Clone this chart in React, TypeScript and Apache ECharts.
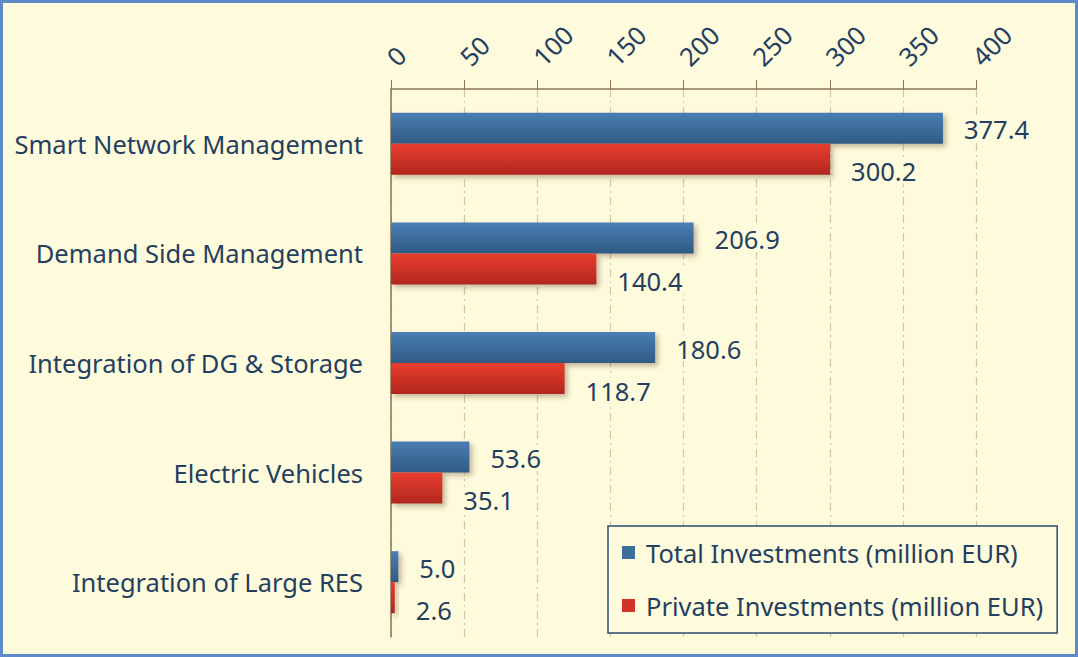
import React, { useEffect, useRef } from "react";
import * as echarts from "echarts";

const categories = [
  "Integration of Large RES",
  "Electric Vehicles",
  "Integration of DG & Storage",
  "Demand Side Management",
  "Smart Network Management",
];
const totalInvestments = [5.0, 53.6, 180.6, 206.9, 377.4];
const privateInvestments = [2.6, 35.1, 118.7, 140.4, 300.2];
const seriesNames = ["Total Investments (million EUR)", "Private Investments (million EUR)"];

const FONT = "'Noto Sans', 'Open Sans', sans-serif";
const FS = 25.5;
const TEXT = "#243F60";
const BG = "#FEFADC";

export default function App() {
  const ref = useRef<HTMLDivElement>(null);
  useEffect(() => {
    document.body.style.margin = "0";
    const chart = echarts.init(ref.current!, null, { renderer: "svg" });
    const blueGrad = new echarts.graphic.LinearGradient(0, 0, 0, 1, [
      { offset: 0, color: "#4A7EB3" },
      { offset: 1, color: "#2F5A84" },
    ]);
    const redGrad = new echarts.graphic.LinearGradient(0, 0, 0, 1, [
      { offset: 0, color: "#E83D2E" },
      { offset: 1, color: "#B2271F" },
    ]);
    const labelBase = {
      show: true,
      position: "right" as const,
      fontFamily: FONT,
      fontSize: FS,
      color: TEXT,
      backgroundColor: BG,
      padding: [0, 4],
      formatter: (p: any) => Number(p.value).toFixed(1),
    };
    chart.setOption({
      animation: false,
      backgroundColor: BG,
      textStyle: { fontFamily: FONT },
      grid: { left: 391, right: 102, top: 89, bottom: 20, containLabel: false },
      legend: {
        orient: "vertical",
        left: 608,
        top: 526,
        padding: [11, 14, 12, 14],
        itemGap: 22,
        itemWidth: 13,
        itemHeight: 13,
        icon: "rect",
        borderColor: "#2B4D6E",
        borderWidth: 1.5,
        backgroundColor: BG,
        textStyle: { fontFamily: FONT, fontSize: FS, lineHeight: 31, color: TEXT, padding: [0, 0, 0, 6] },
        data: [
          { name: seriesNames[0], itemStyle: { color: "#3D6E9E" } },
          { name: seriesNames[1], itemStyle: { color: "#D2342A" } },
        ],
      },
      xAxis: {
        type: "value",
        position: "top",
        min: 0,
        max: 400,
        interval: 50,
        axisLine: { show: true, lineStyle: { color: "#8B7658", width: 1.5 } },
        axisTick: { show: true, length: 9, lineStyle: { color: "#8B7658" } },
        splitLine: {
          show: true,
          lineStyle: { color: "#D6C6A6", type: [8, 4, 2, 4], width: 1.2 },
        },
        axisLabel: {
          rotate: -45,
          margin: 28,
          fontFamily: FONT,
          fontSize: FS,
          color: TEXT,
        },
      },
      yAxis: {
        type: "category",
        data: categories,
        axisLine: { show: true, lineStyle: { color: "#8B7658", width: 1.5 } },
        axisTick: { show: false },
        axisLabel: { fontFamily: FONT, fontSize: FS, color: TEXT, margin: 28 },
      },
      series: [
        {
          name: seriesNames[0],
          type: "bar",
          data: totalInvestments,
          barWidth: 31,
          barGap: "0%",
          itemStyle: {
            color: blueGrad,
            shadowBlur: 5,
            shadowOffsetX: 3,
            shadowOffsetY: 3,
            shadowColor: "rgba(90,60,20,0.35)",
          },
          label: { ...labelBase, offset: [12, 1] },
        },
        {
          name: seriesNames[1],
          type: "bar",
          data: privateInvestments,
          barWidth: 31,
          barGap: "0%",
          itemStyle: {
            color: redGrad,
            shadowBlur: 5,
            shadowOffsetX: 3,
            shadowOffsetY: 3,
            shadowColor: "rgba(90,60,20,0.35)",
          },
          label: { ...labelBase, offset: [12, 12] },
        },
      ],
    });
    return () => chart.dispose();
  }, []);
  return (
    <div style={{ position: "fixed", left: 0, top: 0, width: 1078, height: 657, background: BG }}>
      <div ref={ref} style={{ position: "absolute", left: 0, top: 0, width: 1078, height: 657 }} />
      <div
        style={{
          position: "absolute",
          left: 0,
          top: 0,
          width: 1078,
          height: 657,
          boxSizing: "border-box",
          border: "3px solid #5E8BC8",
          pointerEvents: "none",
        }}
      />
    </div>
  );
}
